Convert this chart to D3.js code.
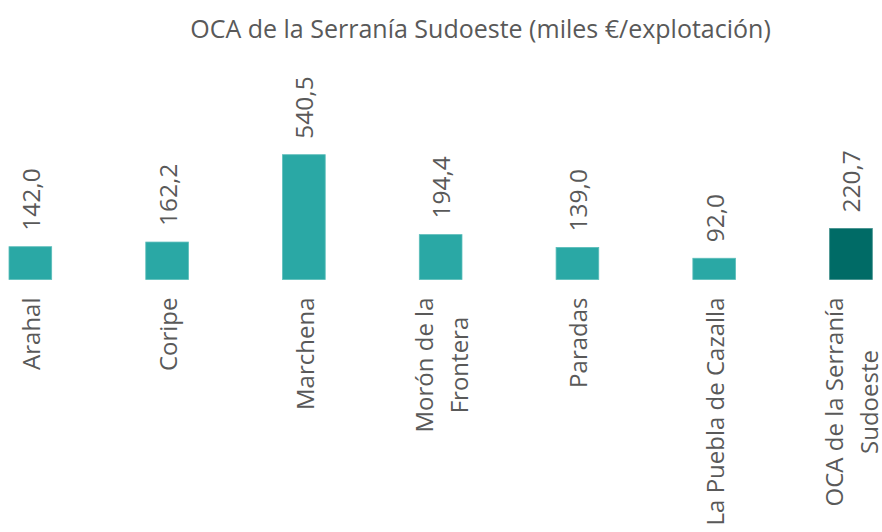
<!DOCTYPE html>
<html>
<head>
<meta charset="utf-8">
<script src="https://cdn.jsdelivr.net/npm/d3@7"></script>
<style>
  html, body { margin: 0; padding: 0; background: #fff; }
  svg { display: block; }
  text { font-family: "Open Sans", sans-serif; fill: #595959; }
</style>
</head>
<body>
<svg id="chart" width="882" height="532"></svg>
<script>
const title = "OCA de la Serranía Sudoeste (miles €/explotación)";
const categories = ["Arahal", "Coripe", "Marchena", "Morón de la Frontera", "Paradas", "La Puebla de Cazalla", "OCA de la Serranía Sudoeste"];
const categoryLines = [["Arahal"], ["Coripe"], ["Marchena"], ["Morón de la", "Frontera"], ["Paradas"], ["La Puebla de Cazalla"], ["OCA de la Serranía", "Sudoeste"]];
const values = [142.0, 162.2, 540.5, 194.4, 139.0, 92.0, 220.7];
const valueLabels = ["142,0", "162,2", "540,5", "194,4", "139,0", "92,0", "220,7"];
const highlight = ["OCA de la Serranía Sudoeste"];

const svg = d3.select("#chart");
const baseY = 279.5;

const x = d3.scaleBand()
  .domain(categories)
  .range([9, 872.3])
  .paddingInner(0.688)
  .paddingOuter(0);

const y = d3.scaleLinear()
  .domain([0, 540.5])
  .range([baseY, 154.7]);

// title
svg.append("text")
  .attr("x", 480.5)
  .attr("y", 38)
  .attr("text-anchor", "middle")
  .style("font-size", "25px")
  .text(title);

// bars
svg.selectAll("rect.bar")
  .data(categories)
  .join("rect")
  .attr("class", "bar")
  .attr("x", d => x(d))
  .attr("width", x.bandwidth())
  .attr("y", (d, i) => y(values[i]))
  .attr("height", (d, i) => baseY - y(values[i]))
  .attr("fill", d => highlight.includes(d) ? "#006B66" : "#2AA8A5")
  .attr("stroke", d => highlight.includes(d) ? "#3E8E8A" : "#5BBDBA")
  .attr("stroke-width", 0.8);

// value labels
svg.selectAll("text.val")
  .data(categories)
  .join("text")
  .attr("class", "val")
  .attr("transform", (d, i) => {
    const cx = x(d) + x.bandwidth() / 2 + 9.5;
    const yy = y(values[i]) - 16;
    return `translate(${cx},${yy}) rotate(-90)`;
  })
  .attr("text-anchor", "start")
  .style("font-size", "24.5px")
  .text((d, i) => valueLabels[i]);

// category labels
const lineGap = 35;
const catG = svg.selectAll("g.cat")
  .data(categories)
  .join("g")
  .attr("class", "cat")
  .attr("transform", (d, i) => {
    const n = categoryLines[i].length;
    const cx = x(d) + x.bandwidth() / 2 + 10 - (n - 1) * lineGap / 2;
    return `translate(${cx},297.5) rotate(-90)`;
  });

catG.each(function(d, i) {
  const g = d3.select(this);
  const lines = categoryLines[i];
  const n = lines.length;
  lines.forEach((ln, j) => {
    g.append("text")
      .attr("x", 0)
      .attr("y", j * lineGap)
      .attr("text-anchor", n > 1 ? "middle" : "end")
      .style("font-size", "24px")
      .text(ln);
  });
});

catG.each(function(d, i) {
  const lines = categoryLines[i];
  if (lines.length > 1) {
    const texts = d3.select(this).selectAll("text");
    let maxW = 0;
    texts.each(function() { maxW = Math.max(maxW, this.getComputedTextLength()); });
    texts.attr("x", -maxW / 2);
  }
});
</script>
</body>
</html>
